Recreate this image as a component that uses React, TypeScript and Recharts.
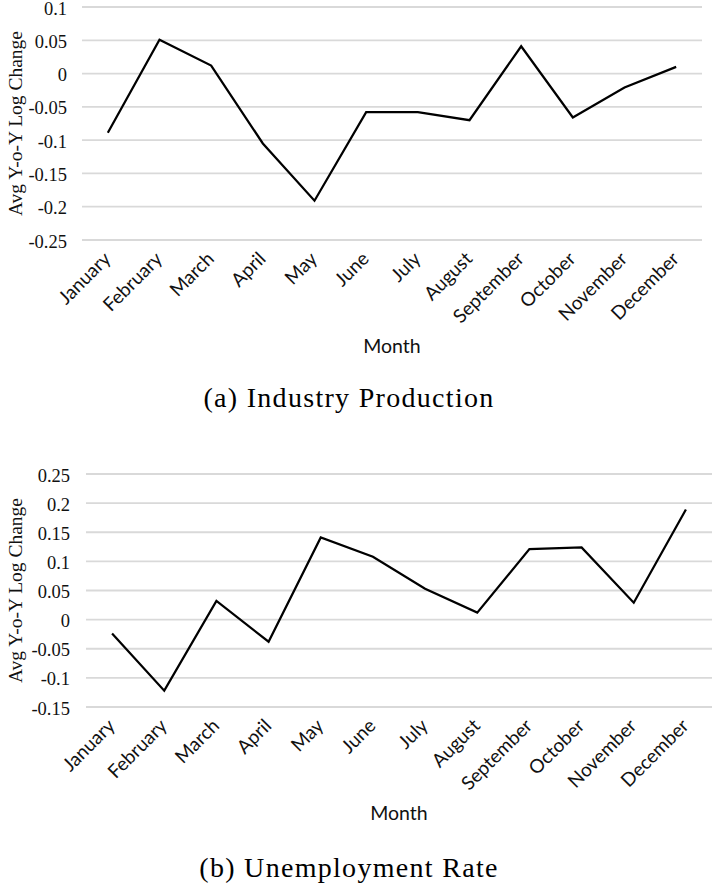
import { LineChart, Line, XAxis, YAxis, CartesianGrid, Label } from "recharts";

const months = [
  "January", "February", "March", "April", "May", "June",
  "July", "August", "September", "October", "November", "December",
];

// avg y-o-y log change
const industryProduction = [-0.089, 0.051, 0.012, -0.105, -0.191, -0.058, -0.058, -0.07, 0.041, -0.066, -0.021, 0.01];
const unemploymentRate = [-0.024, -0.122, 0.032, -0.038, 0.141, 0.108, 0.053, 0.012, 0.121, 0.124, 0.029, 0.189];

const industryTicks = [0.1, 0.05, 0, -0.05, -0.1, -0.15, -0.2, -0.25];
const unemploymentTicks = [0.25, 0.2, 0.15, 0.1, 0.05, 0, -0.05, -0.1, -0.15];

const TEXT = "#111";
const SANS = "Lato, 'Open Sans', sans-serif";
const SERIF = "'Liberation Serif', serif";

const fmt = (v: number) => String(Math.round(v * 100) / 100);

const MonthTick = (props: any) => {
  const { x, y, payload } = props;
  return (
    <g transform={`translate(${x + 4},${y + 12})`}>
      <text x={0} y={0} textAnchor="end" transform="rotate(-45)" fontFamily={SANS} fontSize={19} fill={TEXT}>
        {payload.value}
      </text>
    </g>
  );
};

const ValueTick = (props: any) => {
  const { x, y, payload } = props;
  return (
    <text x={x} y={y + 7.5} textAnchor="end" fontFamily={SERIF} fontSize={18.5} fill={TEXT}>
      {fmt(payload.value)}
    </text>
  );
};

interface PanelProps {
  values: number[];
  ticks: number[];
  yWidth: number;
  tickMargin: number;
  right: number;
  top: number;
}

function Panel({ values, ticks, yWidth, tickMargin, right, top }: PanelProps) {
  const data = months.map((m, i) => ({ month: m, value: values[i] }));
  const pad = (714 - yWidth - right) / 24;
  return (
    <div style={{ position: "absolute", left: 0, top }}>
      <LineChart width={714} height={361} data={data} margin={{ top: 7, right, left: 0, bottom: 8 }}>
        <CartesianGrid vertical={false} stroke="#d9d9d9" strokeWidth={1.8} />
        <XAxis
          dataKey="month"
          height={113}
          axisLine={false}
          tickLine={false}
          interval={0}
          tick={<MonthTick />}
          padding={{ left: pad, right: pad }}
        >
          <Label value="Month" position="insideBottom" offset={0} style={{ fontFamily: SANS, fontSize: 19.5, fill: TEXT }} />
        </XAxis>
        <YAxis
          width={yWidth}
          ticks={ticks}
          domain={[ticks[ticks.length - 1], ticks[0]]}
          interval={0}
          axisLine={false}
          tickLine={false}
          tickMargin={tickMargin}
          tick={<ValueTick />}
        >
          <Label
            value="Avg Y-o-Y Log Change"
            angle={-90}
            position="insideLeft"
            offset={15}
            style={{ textAnchor: "middle", fontFamily: SERIF, fontSize: 19.5, fill: TEXT }}
          />
        </YAxis>
        <Line type="linear" dataKey="value" stroke="#000" strokeWidth={2.25} dot={false} isAnimationActive={false} />
      </LineChart>
    </div>
  );
}

const captionStyle = (top: number): React.CSSProperties => ({
  position: "absolute",
  left: 0,
  top,
  width: 698,
  textAlign: "center",
  fontFamily: SERIF,
  fontSize: 28,
  lineHeight: "28px",
  letterSpacing: 1.3,
  color: "#000",
});

export default function App() {
  return (
    <div style={{ position: "absolute", left: 0, top: 0, width: 714, height: 891, background: "#fff" }}>
      <Panel values={industryProduction} ticks={industryTicks} yWidth={82} tickMargin={9} right={12} top={0} />
      <div style={captionStyle(384)}>(a) Industry Production</div>
      <Panel values={unemploymentRate} ticks={unemploymentTicks} yWidth={86} tickMargin={10} right={2} top={467} />
      <div style={captionStyle(854)}>(b) Unemployment Rate</div>
    </div>
  );
}
